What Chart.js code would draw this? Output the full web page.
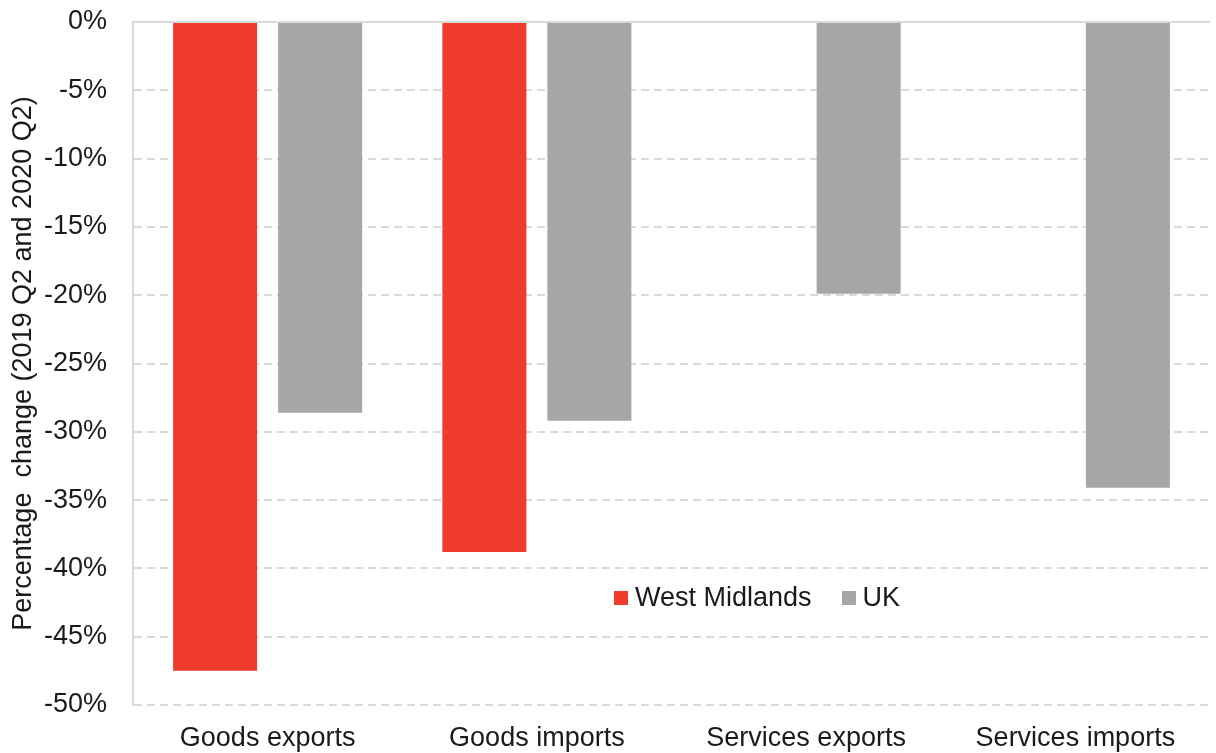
<!DOCTYPE html>
<html>
<head>
<meta charset="utf-8">
<script src="https://cdn.jsdelivr.net/npm/chart.js@4/dist/chart.umd.min.js"></script>
<style>
    html, body { margin: 0; padding: 0; background: #fff; }
    #wrap { position: relative; width: 1216px; height: 753px; }
    #legend {
        position: absolute; left: 614px; top: 582px;
        font: 27px "Liberation Sans", Arial, sans-serif; color: #1a1a1a;
        display: flex; align-items: center; white-space: nowrap;
    }
    #legend .sw { display: inline-block; width: 14px; height: 14px; margin-right: 7px; }
    #legend .item { display: flex; align-items: center; margin-right: 30px; }
</style>
</head>
<body>
<div id="wrap">
    <canvas id="chart" width="1216" height="753"></canvas>
    <div id="legend"></div>
</div>
<script>
'use strict';

const categories = ['Goods exports', 'Goods imports', 'Services exports', 'Services imports'];
const westMidlands = [-47.5, -38.8, null, null];
const uk = [-28.6, -29.2, -19.9, -34.1];
const yTicks = [0, -5, -10, -15, -20, -25, -30, -35, -40, -45, -50];

const colors = {
    westMidlands: '#ee3b2c',
    uk: '#a6a6a6',
    grid: '#d9d9d9'
};
const font = '"Liberation Sans", Arial, sans-serif';

// solid line along 0%, the rest of the grid is dashed
const zeroLine = {
    id: 'zeroLine',
    afterDraw(chart) {
        let y = chart.scales.y.getPixelForValue(0),
            area = chart.chartArea,
            ctx = chart.ctx;
        ctx.save();
        ctx.strokeStyle = colors.grid;
        ctx.lineWidth = 2;
        ctx.beginPath();
        ctx.moveTo(area.left, y);
        ctx.lineTo(area.right, y);
        ctx.stroke();
        ctx.restore();
    }
};

function renderLegend(datasets) {
    document.getElementById('legend').innerHTML = datasets.map(ds =>
        '<span class="item"><span class="sw" style="background:' + ds.backgroundColor + '"></span>' + ds.label + '</span>'
    ).join('');
}

const datasets = [
    { label: 'West Midlands', data: westMidlands, backgroundColor: colors.westMidlands },
    { label: 'UK', data: uk, backgroundColor: colors.uk }
];

new Chart(document.getElementById('chart'), {
    type: 'bar',
    data: { labels: categories, datasets: datasets },
    options: {
        responsive: false,
        animation: false,
        layout: { padding: { top: 22, right: 6, left: 0, bottom: 0 } },
        categoryPercentage: 0.78,
        barPercentage: 0.8,
        plugins: {
            legend: { display: false },
            tooltip: { enabled: false }
        },
        scales: {
            x: {
                grid: { display: false },
                border: { display: false },
                ticks: { color: '#1a1a1a', font: { family: font, size: 27 }, padding: 9 },
                afterFit(scale) { scale.height = 48; }
            },
            y: {
                min: -50,
                max: 0,
                afterBuildTicks(scale) { scale.ticks = yTicks.map(v => ({ value: v })); },
                ticks: {
                    color: '#1a1a1a',
                    font: { family: font, size: 27 },
                    padding: 26,
                    callback: v => v + '%'
                },
                grid: { color: colors.grid, lineWidth: 2, drawTicks: false },
                border: { display: true, color: colors.grid, width: 2, dash: [8, 5] },
                title: {
                    display: true,
                    text: 'Percentage  change (2019 Q2 and 2020 Q2)',
                    color: '#1a1a1a',
                    font: { family: font, size: 27 },
                    padding: { top: 7, bottom: 0 }
                },
                afterFit(scale) {
                    scale.width = 133;
                    scale.paddingTop = 0;
                    scale.paddingBottom = 0;
                }
            }
        }
    },
    plugins: [zeroLine]
});

renderLegend(datasets);
</script>
</body>
</html>
